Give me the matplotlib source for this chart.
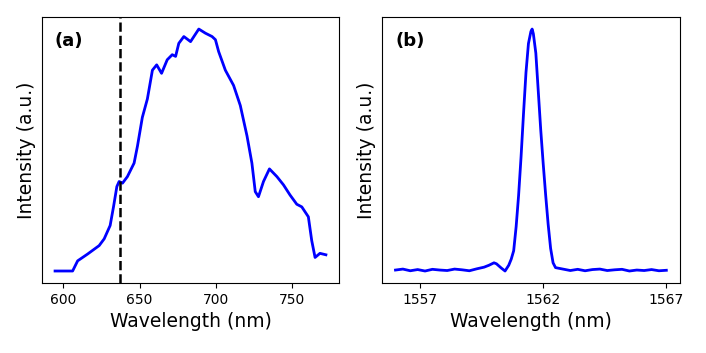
import numpy as np
import matplotlib.pyplot as plt

# (a) broadband emission spectrum
wl_a = [594.6, 606.1, 609.4, 615.9, 623.5, 626.8, 630.7, 632.9, 635.1, 636.6,
        638.8, 642.0, 646.4, 648.6, 651.8, 655.1, 658.4, 661.2, 664.4, 668.1,
        671.4, 673.6, 675.7, 679.0, 683.4, 688.8, 693.1, 697.5, 699.7, 701.8,
        706.2, 711.6, 716.0, 720.4, 723.6, 725.8, 727.9, 731.2, 735.1, 740.0,
        744.3, 748.6, 753.0, 756.3, 760.6, 762.8, 765.0, 768.2, 772.1]
int_a = [0.0, 0.0, 0.042, 0.07, 0.105, 0.133, 0.188, 0.265, 0.349, 0.37,
         0.363, 0.39, 0.446, 0.516, 0.635, 0.711, 0.83, 0.852, 0.817, 0.873,
         0.894, 0.887, 0.941, 0.969, 0.948, 1.0, 0.983, 0.969, 0.956, 0.907,
         0.83, 0.767, 0.684, 0.558, 0.446, 0.328, 0.307, 0.37, 0.422, 0.39,
         0.356, 0.314, 0.276, 0.265, 0.224, 0.126, 0.056, 0.073, 0.067]
zpl_line = 637

# (b) narrow line near 1562 nm
wl_b = [1556.0, 1556.3, 1556.6, 1556.9, 1557.2, 1557.5, 1557.8, 1558.1, 1558.4,
        1558.7, 1559.0, 1559.3, 1559.6, 1559.8, 1560.0, 1560.1, 1560.3, 1560.45,
        1560.6, 1560.7, 1560.8, 1560.9, 1561.0, 1561.1, 1561.2, 1561.3, 1561.4,
        1561.5, 1561.55, 1561.6, 1561.7, 1561.8, 1561.9, 1562.0, 1562.1, 1562.2,
        1562.3, 1562.4, 1562.5, 1562.8, 1563.1, 1563.4, 1563.7, 1564.0, 1564.3,
        1564.6, 1564.9, 1565.2, 1565.5, 1565.8, 1566.1, 1566.4, 1566.7, 1567.0]
int_b = [0.0, 0.004, -0.003, 0.002, -0.004, 0.003, 0.0, -0.002, 0.004,
         0.001, -0.003, 0.005, 0.012, 0.02, 0.03, 0.026, 0.008, -0.004,
         0.02, 0.045, 0.08, 0.18, 0.31, 0.47, 0.65, 0.82, 0.94,
         0.99, 1.0, 0.98, 0.9, 0.74, 0.58, 0.44, 0.31, 0.19,
         0.09, 0.03, 0.01, 0.004, -0.002, 0.003, -0.003, 0.002, 0.004,
         -0.002, 0.001, 0.003, -0.004, 0.0, -0.002, 0.002, -0.003, -0.001]
ticks_b = [1557, 1562, 1567]

fig = plt.figure(figsize=(7.06, 3.53), dpi=100)
ax1 = fig.add_axes([0.0588, 0.198, 0.422, 0.754])
ax2 = fig.add_axes([0.541, 0.198, 0.422, 0.754])

ax1.plot(wl_a, int_a, color='#0000ff', lw=2)
ax1.axvline(zpl_line, color='black', ls='--', lw=1.8)
ax1.set_xticks([600, 650, 700, 750])

ax2.plot(wl_b, int_b, color='#0000ff', lw=2)
ax2.set_xticks(ticks_b)

for ax, tag in [(ax1, '(a)'), (ax2, '(b)')]:
    ax.set_yticks([])
    ax.set_xlabel('Wavelength (nm)', fontsize=13.5)
    ax.set_ylabel('Intensity (a.u.)', fontsize=13.5)
    ax.tick_params(axis='x', labelsize=10)
    ax.text(0.045, 0.91, tag, transform=ax.transAxes, fontsize=13,
            fontweight='bold', va='center', ha='left')

fig.savefig('out.png', dpi=100)
